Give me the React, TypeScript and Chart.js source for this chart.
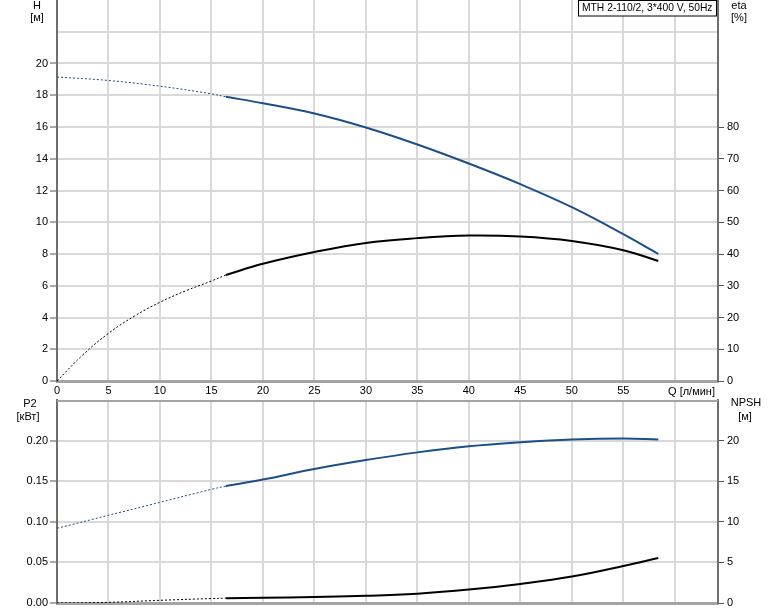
import React, { useEffect, useRef } from "react";
import { Chart, registerables } from "chart.js";

Chart.register(...registerables);

// ---- Data ----
const xTicks = [0, 5, 10, 15, 20, 25, 30, 35, 40, 45, 50, 55, 60];

const qDashH = [0, 5, 10, 15, 16.4];
const hDash = [19.15, 18.93, 18.57, 18.09, 17.9];
const qSolid = [16.4, 20, 25, 30, 35, 40, 45, 50, 55, 58.4];
const hSolid = [17.9, 17.5, 16.85, 15.97, 14.9, 13.7, 12.4, 10.95, 9.25, 8.0];

const qDashEta = [0, 2.5, 5, 7.5, 10, 12.5, 15, 16.4];
const etaDash = [0, 8.2, 15, 20.4, 24.8, 28.4, 31.5, 33.4];
const etaSolid = [33.4, 36.9, 40.6, 43.5, 45.0, 45.8, 45.5, 44.1, 41.2, 37.8];

const qDashLow = [0, 5, 10, 15, 16.4];
const p2Dash = [0.092, 0.108, 0.124, 0.14, 0.144];
const p2Solid = [0.144, 0.152, 0.165, 0.176, 0.1855, 0.193, 0.198, 0.2015, 0.2027, 0.2015];
const npshDash = [0, 0.08, 0.33, 0.55, 0.6];
const npshSolid = [0.6, 0.65, 0.74, 0.88, 1.15, 1.65, 2.35, 3.25, 4.55, 5.55];

const titleText = "MTH 2-110/2, 3*400 V, 50Hz";

const BLUE = "#1b4f8a";
const BLACK = "#000000";
const GRID = "#d9d9d9";
const AXIS = "#6e6e6e";
const XAXIS = "#a4a4a4";
const FONT = '"Liberation Sans", Arial, sans-serif';

const pts = (xs: number[], ys: number[]) => xs.map((x, i) => ({ x, y: ys[i] }));

const solidDs = (data: any, color: string, axis: string) => ({
  data,
  borderColor: color,
  borderWidth: 2,
  pointRadius: 0,
  tension: 0.4,
  yAxisID: axis,
});
const dashDs = (data: any, color: string, axis: string) => ({
  data,
  borderColor: color,
  borderWidth: 1,
  borderDash: [2, 2],
  pointRadius: 0,
  tension: 0.4,
  yAxisID: axis,
});

const xScale = (showLabels: boolean, h: number) => ({
  type: "linear" as const,
  min: 0,
  max: 64.2,
  afterBuildTicks: (s: any) => {
    s.ticks = xTicks.map((v) => ({ value: v }));
  },
  afterFit: (s: any) => {
    s.height = h;
    s.paddingLeft = 0;
    s.paddingRight = 0;
  },
  ticks: {
    display: showLabels,
    padding: 3,
    callback: (v: any) => (v === 60 ? "" : String(v)),
    maxRotation: 0,
    autoSkip: false,
  },
  grid: { color: GRID, lineWidth: 2, drawTicks: false },
  border: { color: XAXIS, width: 3 },
});

const leftY = (min: number, max: number, step: number, hideAbove: number, fmt: (v: number) => string) => ({
  type: "linear" as const,
  position: "left" as const,
  min,
  max,
  ticks: {
    stepSize: step,
    padding: 2,
    callback: (v: any) => (v > hideAbove + 1e-9 ? "" : fmt(v)),
  },
  afterFit: (s: any) => {
    s.width = 57;
    s.paddingTop = 0;
    s.paddingBottom = 0;
  },
  grid: {
    color: (c: any) => (c.tick && c.tick.value >= max - 1e-9 ? "rgba(0,0,0,0)" : GRID),
    lineWidth: 2,
    tickColor: (c: any) => (c.tick && c.tick.value > hideAbove + 1e-9 ? "rgba(0,0,0,0)" : "#555"),
    tickWidth: 1,
    tickLength: 7,
  },
  border: { color: AXIS, width: 2 },
});

const rightY = (min: number, max: number, step: number, hideAbove: number) => ({
  type: "linear" as const,
  position: "right" as const,
  min,
  max,
  ticks: {
    stepSize: step,
    padding: 3,
    callback: (v: any) => (v > hideAbove + 1e-9 ? "" : String(v)),
  },
  afterFit: (s: any) => {
    s.width = 56;
    s.paddingTop = 0;
    s.paddingBottom = 0;
  },
  grid: {
    drawOnChartArea: false,
    tickColor: (c: any) => (c.tick && c.tick.value > hideAbove + 1e-9 ? "rgba(0,0,0,0)" : "#555"),
    tickWidth: 1,
    tickLength: 6,
  },
  border: { color: AXIS, width: 2 },
});

const textPlugin = (items: { t: string; x: number; y: number; align?: CanvasTextAlign }[], extra?: (c: any) => void) => ({
  id: "texts",
  afterDraw(chart: any) {
    const ctx = chart.ctx;
    ctx.save();
    if (extra) extra(chart);
    ctx.font = `11px ${FONT}`;
    ctx.fillStyle = "#000";
    ctx.textBaseline = "middle";
    for (const it of items) {
      ctx.textAlign = it.align || "center";
      ctx.fillText(it.t, it.x, it.y);
    }
    ctx.restore();
  },
});

export default function App() {
  const topRef = useRef<HTMLCanvasElement>(null);
  const botRef = useRef<HTMLCanvasElement>(null);

  useEffect(() => {
    Chart.defaults.font.family = FONT;
    Chart.defaults.font.size = 11;
    Chart.defaults.color = "#000";

    const top = new Chart(topRef.current!, {
      type: "line",
      data: {
        datasets: [
          dashDs(pts(qDashH, hDash), BLUE, "yH"),
          solidDs(pts(qSolid, hSolid), BLUE, "yH"),
          dashDs(pts(qDashEta, etaDash), BLACK, "yEta"),
          solidDs(pts(qSolid, etaSolid), BLACK, "yEta"),
        ],
      },
      options: {
        animation: false,
        responsive: false,
        maintainAspectRatio: false,
        layout: { padding: 0 },
        plugins: { legend: { display: false }, tooltip: { enabled: false } },
        scales: {
          x: xScale(true, 16),
          yH: leftY(0, 24, 2, 20, (v) => String(v)),
          yEta: rightY(0, 120, 10, 80),
        },
      },
      plugins: [
        textPlugin(
          [
            { t: "H", x: 37, y: 6 },
            { t: "[м]", x: 37, y: 18 },
            { t: "eta", x: 739, y: 6 },
            { t: "[%]", x: 739, y: 18 },
            { t: "Q [л/мин]", x: 715, y: 392, align: "right" },
          ],
          (chart: any) => {
            const ctx = chart.ctx;
            ctx.fillStyle = "#fff";
            ctx.fillRect(578, 0, 139, 16);
            ctx.strokeStyle = "#000";
            ctx.lineWidth = 1;
            ctx.strokeRect(578.5, 0.5, 138, 15.5);
            ctx.font = `10.3px ${FONT}`;
            ctx.fillStyle = "#000";
            ctx.textAlign = "left";
            ctx.textBaseline = "middle";
            ctx.fillText(titleText, 582, 8.5);
          }
        ),
      ],
    } as any);

    const bot = new Chart(botRef.current!, {
      type: "line",
      data: {
        datasets: [
          dashDs(pts(qDashLow, p2Dash), BLUE, "yP"),
          solidDs(pts(qSolid, p2Solid), BLUE, "yP"),
          dashDs(pts(qDashLow, npshDash), BLACK, "yN"),
          solidDs(pts(qSolid, npshSolid), BLACK, "yN"),
        ],
      },
      options: {
        animation: false,
        responsive: false,
        maintainAspectRatio: false,
        layout: { padding: { top: 3, left: 0, right: 0, bottom: 0 } },
        plugins: { legend: { display: false }, tooltip: { enabled: false } },
        scales: {
          x: xScale(false, 8),
          yP: leftY(0, 0.25, 0.05, 0.2, (v) => v.toFixed(2)),
          yN: rightY(0, 25, 5, 20),
        },
      },
      plugins: [
        textPlugin(
          [
            { t: "P2", x: 30, y: 7 },
            { t: "[кВт]", x: 28, y: 20 },
            { t: "NPSH", x: 746, y: 6 },
            { t: "[м]", x: 745, y: 20 },
          ],
          (chart: any) => {
            const ctx = chart.ctx;
            const a = chart.chartArea;
            ctx.strokeStyle = XAXIS;
            ctx.lineWidth = 2;
            ctx.beginPath();
            ctx.moveTo(a.left, a.top + 1);
            ctx.lineTo(a.right, a.top + 1);
            ctx.stroke();
          }
        ),
      ],
    } as any);

    return () => {
      top.destroy();
      bot.destroy();
    };
  }, []);

  return (
    <div style={{ position: "absolute", left: 0, top: 0, width: 774, height: 611, background: "#fff" }}>
      <canvas ref={topRef} width={774} height={397} style={{ display: "block", width: 774, height: 397 }} />
      <canvas ref={botRef} width={774} height={214} style={{ display: "block", width: 774, height: 214 }} />
    </div>
  );
}
